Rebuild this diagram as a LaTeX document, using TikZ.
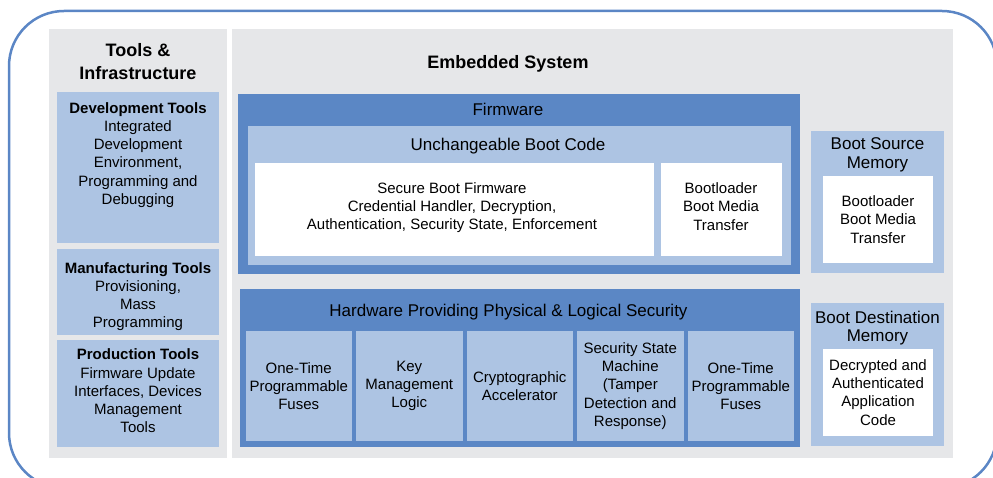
\documentclass[tikz,border=0pt]{standalone}
\usepackage{fontspec}
\setmainfont{Liberation Sans}
\usepackage{tikz}
\usetikzlibrary{positioning}
\definecolor{rimblue}{RGB}{91,134,197}
\definecolor{fwblue}{RGB}{91,135,197}
\definecolor{paleblue}{RGB}{173,196,227}
\definecolor{panelgray}{RGB}{230,231,233}
\def\fsz#1{\fontsize{#1}{18.2}\selectfont}

\begin{document}
\begin{tikzpicture}[x=1pt, y=-1pt, inner sep=0pt, outer sep=0pt,
		panel/.style={fill=panelgray, anchor=north west},
		fwbox/.style={fill=fwblue, anchor=north west},
		palebox/.style={fill=paleblue, anchor=north west},
		whitebox/.style={fill=white, align=center, font=\fsz{15}},
		cell/.style={fill=paleblue, align=center, font=\fsz{15}, minimum width=106.5, minimum height=110},
		heading/.style={font=\fsz{17}, anchor=base},
		memtitle/.style={font=\fsz{17}, align=center},
		tooltext/.style={font=\fsz{15}, align=center}]
		
		\useasboundingbox (0,0) rectangle (993,478);
		\clip (0,0) rectangle (993,478);
		
		% Frame
		\draw[rimblue, line width=2.5pt, rounded corners=55pt] (9,11) rectangle (997,488);
		
		% Panels
		\node[panel, minimum width=178, minimum height=429] (tools) at (49,29) {};
		\node[panel, minimum width=721, minimum height=429] (embedded) at (232,29) {};
		
		% Tools & Infrastructure
		\node[align=center, font=\bfseries\fontsize{18}{23}\selectfont] (toolstitle) at (138,62) {Tools \&\\Infrastructure};
		\node[palebox, minimum width=162, minimum height=151] (devtools) at (57,92) {};
		\node[palebox, minimum width=162, minimum height=86, below=6pt of devtools] (mfgtools) {};
		\node[palebox, minimum width=162, minimum height=107, below=5pt of mfgtools] (prodtools) {};
		\node[tooltext, below=10.4pt of devtools.north] (devtext) {\textbf{Development Tools}\\Integrated\\Development\\Environment,\\Programming and\\Debugging};
		\node[tooltext, below=13.4pt of mfgtools.north] (mfgtext) {\textbf{Manufacturing Tools}\\Provisioning,\\Mass\\Programming};
		\node[tooltext, below=9pt of prodtools.north] (prodtext) {\textbf{Production Tools}\\Firmware Update\\Interfaces, Devices\\Management\\Tools};
		
		% Embedded System
		\node[heading, font=\bfseries\fsz{18}] (embtitle) at (508,68.4) {Embedded System};
		
		% Firmware
		\node[fwbox, minimum width=562, minimum height=180] (firmware) at (238,94) {};
		\node[heading] (fwlabel) at (508,115.1) {Firmware};
		\node[palebox, minimum width=543.5, minimum height=139] (bootcode) at (247.5,126) {};
		\node[heading] (bootlabel) at (508,150.1) {Unchangeable Boot Code};
		\node[whitebox, anchor=north west, minimum width=399, minimum height=93] (secureboot) at (255,163) {};
		\node[whitebox, minimum width=121, minimum height=93, right=6.5pt of secureboot] (loader) {};
		\node[tooltext] (securetext) at ([xshift=-2.5pt, yshift=2pt]secureboot.center) {Secure Boot Firmware\\Credential Handler, Decryption,\\Authentication, Security State, Enforcement};
		\node[tooltext] (loadertext) at ([yshift=3pt]loader.center) {Bootloader\\Boot Media\\Transfer};
		
		% Hardware
		\node[fwbox, minimum width=560, minimum height=157.5] (hardware) at (240,289.5) {};
		\node[heading] (hwlabel) at (508.5,316.6) {Hardware Providing Physical \& Logical Security};
		\node[cell, anchor=north west] (otpleft) at (245.5,331) {One-Time\\Programmable\\Fuses};
		\node[cell, right=4pt of otpleft] (keylogic) {Key\\Management\\Logic};
		\node[cell, right=4pt of keylogic] (crypto) {Cryptographic\\Accelerator};
		\node[cell, right=4pt of crypto] (statemachine) {Security State\\Machine\\(Tamper\\Detection and\\Response)};
		\node[cell, right=4pt of statemachine] (otpright) {One-Time\\Programmable\\Fuses};
		
		% Memories
		\node[palebox, minimum width=133, minimum height=142] (bootsrc) at (811,131) {};
		\node[memtitle] (srctitle) at (877.5,154.8) {Boot Source\\Memory};
		\node[whitebox, anchor=north west, minimum width=110, minimum height=87] (srcmem) at (823,176) {Bootloader\\Boot Media\\Transfer};
		\node[palebox, minimum width=133, minimum height=143] (bootdst) at (811,303) {};
		\node[memtitle] (dsttitle) at (877.5,328.5) {Boot Destination\\Memory};
		\node[whitebox, anchor=north west, minimum width=110, minimum height=87] (dstmem) at (823,349) {Decrypted and\\Authenticated\\Application\\Code};
		
	\end{tikzpicture}
\end{document}
